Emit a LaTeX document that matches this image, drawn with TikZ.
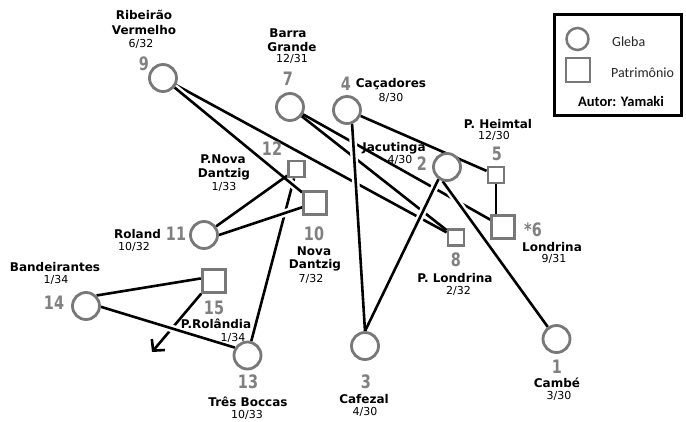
\documentclass[tikz,border=0pt]{standalone}
\usepackage{fontspec}
\setmainfont{DejaVu Sans}
\newfontfamily\numfont[FakeStretch=0.78]{DejaVu Sans}
\newfontfamily\legfont{Carlito}
\usetikzlibrary{arrows.meta}
\pgfdeclarelayer{paper}
\pgfdeclarelayer{wires}
\pgfsetlayers{paper,wires,main}
\definecolor{ringgray}{gray}{0.47}
\definecolor{numgray}{gray}{0.5}
\tikzset{
  gleba/.style={circle,draw=ringgray,line width=2.8pt,minimum size=27pt,inner sep=0pt,fill=white},
  patbig/.style={rectangle,draw=ringgray,line width=2.8pt,minimum size=23pt,inner sep=0pt,fill=white},
  patsmall/.style={rectangle,draw=ringgray,line width=2.8pt,minimum size=16pt,inner sep=0pt,fill=white},
  numlbl/.style={anchor=base,text=numgray,font=\numfont\bfseries\fontsize{18.5}{20}\selectfont,inner sep=0pt},
  namelbl/.style={anchor=base,font=\bfseries\fontsize{12}{14}\selectfont,inner sep=0pt},
  fraclbl/.style={anchor=base,font=\fontsize{11}{13}\selectfont,inner sep=0pt},
  legtxt/.style={anchor=base west,font=\legfont\fontsize{14}{17}\selectfont,text=black!85,inner sep=0pt},
  conn/.style={draw=black,line width=2.6pt},
  halo/.style={draw=white,line width=7.5pt},
}
\begin{document}
\begin{tikzpicture}[x=1pt,y=-1pt]
\useasboundingbox (0,0) rectangle (686,421);
\begin{pgfonlayer}{paper}
\fill[white] (0,0) rectangle (686,421);
\end{pgfonlayer}

% Glebas (circles)
\node[gleba] (g9)  at (163,78) {};
\node[gleba] (g7)  at (290,107) {};
\node[gleba] (g4)  at (347,110) {};
\node[gleba] (g2)  at (447,167) {};
\node[gleba] (g11) at (204,235) {};
\node[gleba] (g14) at (86,306) {};
\node[gleba] (g13) at (247.5,355.5) {};
\node[gleba] (g3)  at (365,346) {};
\node[gleba] (g1)  at (556.5,339) {};
% Patrimonios (squares)
\node[patsmall] (p12) at (296.5,169) {};
\node[patbig]   (p10) at (315,203) {};
\node[patsmall] (p5)  at (496,175) {};
\node[patbig]   (p6)  at (503.3,227) {};
\node[patsmall] (p8)  at (456,237.5) {};
\node[patbig]   (p15) at (213.7,280.7) {};
\coordinate (tip) at (152,352);

% Labels
\node[namelbl] (nm9a) at (144,19.5) {Ribeirão};
\node[namelbl] (nm9b) at (144,34.5) {Vermelho};
\node[fraclbl] (fr9) at (141,47.5) {6/32};
\node[numlbl] (num9) at (144,70) {9};

\node[namelbl] (nm7a) at (288,37.5) {Barra};
\node[namelbl] (nm7b) at (292,51.5) {Grande};
\node[fraclbl] (fr7) at (292,62.5) {12/31};
\node[numlbl] (num7) at (288,85) {7};

\node[numlbl] (num4) at (346,90) {4};
\node[namelbl] (nm4) at (391,87.5) {Caçadores};
\node[fraclbl] (fr4) at (391,101.5) {8/30};

\node[namelbl] (nm5) at (498,128.5) {P. Heimtal};
\node[fraclbl] (fr5) at (494,139) {12/30};
\node[numlbl] (num5) at (497,160) {5};

\node[namelbl] (nm2) at (394,151) {Jacutinga};
\node[fraclbl] (fr2) at (400,163.5) {4/30};
\node[numlbl] (num2) at (422,170) {2};

\node[numlbl] (num6) at (533,236) {*6};
\node[namelbl] (nm6) at (552,251.5) {Londrina};
\node[fraclbl] (fr6) at (554,262) {9/31};

\node[numlbl] (num8) at (456,266.5) {8};
\node[namelbl] (nm8) at (455,282.5) {P. Londrina};
\node[fraclbl] (fr8) at (458.5,294.5) {2/32};

\node[numlbl] (num12) at (272,155.5) {12};
\node[namelbl] (nm12a) at (223,163.5) {P.Nova};
\node[namelbl] (nm12b) at (224,177.5) {Dantzig};
\node[fraclbl] (fr12) at (224,190.5) {1/33};

\node[namelbl] (nm11) at (137.5,238.5) {Roland};
\node[numlbl] (num11) at (176,240) {11};
\node[fraclbl] (fr11) at (134,250.5) {10/32};

\node[numlbl] (num10) at (314,240) {10};
\node[namelbl] (nm10a) at (314,255) {Nova};
\node[namelbl] (nm10b) at (315,268.5) {Dantzig};
\node[fraclbl] (fr10) at (311,282.5) {7/32};

\node[namelbl] (nm14) at (55,271.5) {Bandeirantes};
\node[fraclbl] (fr14) at (56,283.5) {1/34};
\node[numlbl] (num14) at (54,309.5) {14};

\node[numlbl] (num15) at (214,314) {15};
\node[namelbl] (nm15) at (216,328.5) {P.Rolândia};
\node[fraclbl] (fr15) at (233,341) {1/34};

\node[numlbl] (num13) at (248,388.5) {13};
\node[namelbl] (nm13) at (248,406.5) {Três Boccas};
\node[fraclbl] (fr13) at (247,418.5) {10/33};

\node[numlbl] (num3) at (366,388.5) {3};
\node[namelbl] (nm3) at (364,403.5) {Cafezal};
\node[fraclbl] (fr3) at (365,415) {4/30};

\node[numlbl] (num1) at (557,373.5) {1};
\node[namelbl] (nm1) at (557,387) {Cambé};
\node[fraclbl] (fr1) at (559,399.5) {3/30};

% Legend
\node[draw=black,line width=3pt,minimum width=127pt,minimum height=101pt,inner sep=0pt] (legendbox) at (618,65) {};
\node[circle,draw=ringgray,line width=2.5pt,minimum size=22pt,inner sep=0pt] (lgc) at (577.5,39) {};
\node[rectangle,draw=ringgray,line width=2.5pt,minimum size=24pt,inner sep=0pt] (lgs) at (578,70) {};
\node[legtxt] (lgt1) at (612,46.5) {Gleba};
\node[legtxt] (lgt2) at (611,77) {Patrimônio};
\node[anchor=base,font=\legfont\bfseries\fontsize{14.5}{17}\selectfont,inner sep=0pt] (lgt3) at (621,106) {Autor: Yamaki};

% Connectors
\begin{pgfonlayer}{wires}
% lines that pass underneath
\draw[conn] (g9) -- (p8);
\draw[conn] (g7) -- (p8);
\draw[conn] (g7) -- (p6);
\draw[conn] (p12) -- (g13);
\draw[conn,-{Straight Barb[length=8pt,width=17pt]}] (p15.226) -- (tip);
\draw[conn] (g4) -- (p5);
\draw[conn] (p5.south) -- (p5.south |- p6.north);
\draw[conn] (g14.45) -- (p15.170);
% white gaps for lines that pass over
\foreach \s/\t in {g9/p10, g11.0/p10, g4.290/g3.north, g2.235/g3.north, g2.253/g1, g14.-3/g13.148}
  \draw[halo] (\s) -- (\t);
% lines that pass over
\foreach \s/\t in {g9/p10, g11.0/p10, g4.290/g3.north, g2.235/g3.north, g2.253/g1, g14.-3/g13.148}
  \draw[conn] (\s) -- (\t);
\draw[conn] (g11) -- (p12);
\end{pgfonlayer}
\end{tikzpicture}
\end{document}
